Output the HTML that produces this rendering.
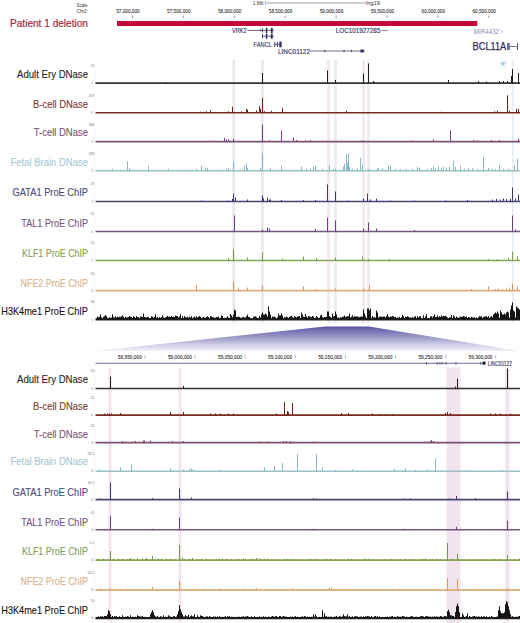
<!DOCTYPE html>
<html><head><meta charset="utf-8"><style>
html,body{margin:0;padding:0;background:#fff;width:520px;height:623px;overflow:hidden}
svg{display:block}
</style></head><body>
<svg width="520" height="623" viewBox="0 0 520 623" font-family='"Liberation Sans", sans-serif'><rect x="232.5" y="60" width="2.5" height="263" fill="#e8e8ec" />
<rect x="261.2" y="60" width="2.5" height="263" fill="#e8e8ec" />
<rect x="327.2" y="60" width="2.5" height="263" fill="#f1e6ee" />
<rect x="334.4" y="60" width="2.5" height="263" fill="#ebebef" />
<rect x="362.4" y="60" width="2.5" height="263" fill="#f1e6ee" />
<rect x="367.2" y="60" width="2.5" height="263" fill="#ebebef" />
<rect x="511.8" y="60" width="1.6" height="263" fill="#e0ecf6" />
<rect x="108.5" y="367.5" width="3" height="256" fill="#f2e4ef" />
<rect x="178.5" y="367.5" width="3" height="256" fill="#f2e4ef" />
<rect x="446.5" y="367.5" width="14" height="256" fill="#f2e4ef" />
<rect x="505.2" y="367.5" width="4.2" height="256" fill="#f2e4ef" />
<text x="76.5" y="7" font-size="4.6" fill="#333" text-anchor="start" textLength="11" lengthAdjust="spacingAndGlyphs" font-weight="normal" >Scale</text>
<text x="76.5" y="13" font-size="4.6" fill="#333" text-anchor="start" textLength="11.5" lengthAdjust="spacingAndGlyphs" font-weight="normal" >Chr2:</text>
<text x="10" y="27" font-size="10.8" fill="#a32a3a" text-anchor="start" textLength="78" lengthAdjust="spacingAndGlyphs" font-weight="normal" stroke="#a32a3a" stroke-width="0.2">Patient 1 deletion</text>
<rect x="117" y="21" width="360.3" height="5" fill="#c4063a" />
<text x="127.9" y="13.3" font-size="5.6" fill="#333" text-anchor="middle" textLength="23.5" lengthAdjust="spacingAndGlyphs" font-weight="normal" stroke="#333" stroke-width="0.1">57,000,000</text>
<line x1="132.5" y1="15.5" x2="132.5" y2="18" stroke="#555" stroke-width="0.6" />
<text x="178.8" y="13.3" font-size="5.6" fill="#333" text-anchor="middle" textLength="23.5" lengthAdjust="spacingAndGlyphs" font-weight="normal" stroke="#333" stroke-width="0.1">57,500,000</text>
<line x1="183.4" y1="15.5" x2="183.4" y2="18" stroke="#555" stroke-width="0.6" />
<text x="229.70000000000002" y="13.3" font-size="5.6" fill="#333" text-anchor="middle" textLength="23.5" lengthAdjust="spacingAndGlyphs" font-weight="normal" stroke="#333" stroke-width="0.1">58,000,000</text>
<line x1="234.3" y1="15.5" x2="234.3" y2="18" stroke="#555" stroke-width="0.6" />
<text x="280.59999999999997" y="13.3" font-size="5.6" fill="#333" text-anchor="middle" textLength="23.5" lengthAdjust="spacingAndGlyphs" font-weight="normal" stroke="#333" stroke-width="0.1">58,500,000</text>
<line x1="285.2" y1="15.5" x2="285.2" y2="18" stroke="#555" stroke-width="0.6" />
<text x="331.5" y="13.3" font-size="5.6" fill="#333" text-anchor="middle" textLength="23.5" lengthAdjust="spacingAndGlyphs" font-weight="normal" stroke="#333" stroke-width="0.1">59,000,000</text>
<line x1="336.1" y1="15.5" x2="336.1" y2="18" stroke="#555" stroke-width="0.6" />
<text x="382.4" y="13.3" font-size="5.6" fill="#333" text-anchor="middle" textLength="23.5" lengthAdjust="spacingAndGlyphs" font-weight="normal" stroke="#333" stroke-width="0.1">59,500,000</text>
<line x1="387.0" y1="15.5" x2="387.0" y2="18" stroke="#555" stroke-width="0.6" />
<text x="433.29999999999995" y="13.3" font-size="5.6" fill="#333" text-anchor="middle" textLength="23.5" lengthAdjust="spacingAndGlyphs" font-weight="normal" stroke="#333" stroke-width="0.1">60,000,000</text>
<line x1="437.9" y1="15.5" x2="437.9" y2="18" stroke="#555" stroke-width="0.6" />
<text x="484.2" y="13.3" font-size="5.6" fill="#333" text-anchor="middle" textLength="23.5" lengthAdjust="spacingAndGlyphs" font-weight="normal" stroke="#333" stroke-width="0.1">60,500,000</text>
<line x1="488.8" y1="15.5" x2="488.8" y2="18" stroke="#555" stroke-width="0.6" />
<text x="252.8" y="5" font-size="4.8" fill="#333" text-anchor="start" textLength="10.5" lengthAdjust="spacingAndGlyphs" font-weight="normal" >1 Mb</text>
<line x1="265.4" y1="3" x2="366" y2="3" stroke="#888" stroke-width="0.8" />
<line x1="265.4" y1="1" x2="265.4" y2="5" stroke="#888" stroke-width="0.6" />
<line x1="366" y1="1" x2="366" y2="5" stroke="#888" stroke-width="0.6" />
<text x="367" y="5" font-size="4.8" fill="#333" text-anchor="start" textLength="13" lengthAdjust="spacingAndGlyphs" font-weight="normal" >hg19</text>
<text x="231.9" y="33.0" font-size="6.8" fill="#2e2e5c" text-anchor="start" textLength="14.9" lengthAdjust="spacingAndGlyphs" font-weight="normal" stroke="#2e2e5c" stroke-width="0.12">VRK2</text>
<line x1="247.5" y1="30.4" x2="274" y2="30.4" stroke="#2e2e5c" stroke-width="0.7" />
<rect x="259.9" y="29.6" width="1.2" height="1.6" fill="#2e2e5c" />
<rect x="262" y="28.3" width="0.9" height="4.2" fill="#2e2e5c" />
<rect x="265.8" y="27.8" width="1.5" height="5.2" fill="#2e2e5c" />
<rect x="270.8" y="27.8" width="1.9" height="5.2" fill="#2e2e5c" />
<line x1="262.4" y1="36.2" x2="274" y2="36.2" stroke="#2e2e5c" stroke-width="0.7" />
<rect x="262" y="34" width="0.9" height="4.4" fill="#2e2e5c" />
<rect x="265.8" y="33.6" width="1.5" height="5.2" fill="#2e2e5c" />
<rect x="270.8" y="33.6" width="1.9" height="5.2" fill="#2e2e5c" />
<text x="253.5" y="47.3" font-size="6.8" fill="#2e2e5c" text-anchor="start" textLength="18.5" lengthAdjust="spacingAndGlyphs" font-weight="normal" stroke="#2e2e5c" stroke-width="0.12">FANCL</text>
<line x1="274.5" y1="44.4" x2="281" y2="44.4" stroke="#2e2e5c" stroke-width="0.7" />
<rect x="274.4" y="41.8" width="0.9" height="5.2" fill="#2e2e5c" />
<rect x="276.9" y="41.8" width="0.9" height="5.2" fill="#2e2e5c" />
<rect x="279.3" y="41.5" width="2.3" height="5.8" fill="#2e2e5c" />
<text x="278" y="53.8" font-size="6.8" fill="#2e2e5c" text-anchor="start" textLength="32" lengthAdjust="spacingAndGlyphs" font-weight="normal" stroke="#2e2e5c" stroke-width="0.12">LINC01122</text>
<line x1="310" y1="51" x2="365" y2="51" stroke="#2e2e5c" stroke-width="0.7" />
<rect x="324.40000000000003" y="49.8" width="0.8" height="2.4" fill="#2e2e5c" />
<rect x="343.6" y="49.8" width="0.8" height="2.4" fill="#2e2e5c" />
<rect x="351.3" y="49.8" width="0.8" height="2.4" fill="#2e2e5c" />
<rect x="360.5" y="49.5" width="3.2" height="3" fill="#2e2e5c" />
<text x="335.8" y="33.3" font-size="6.8" fill="#2e2e5c" text-anchor="start" textLength="44.6" lengthAdjust="spacingAndGlyphs" font-weight="normal" stroke="#2e2e5c" stroke-width="0.12">LOC101927285</text>
<line x1="381.5" y1="30.6" x2="388" y2="30.6" stroke="#2e2e5c" stroke-width="0.6" />
<text x="473.8" y="33.5" font-size="6.5" fill="#8c8cb8" text-anchor="start" textLength="25.4" lengthAdjust="spacingAndGlyphs" font-weight="normal" >MIR4432</text>
<text x="500.5" y="33.5" font-size="6.5" fill="#8c8cb8" text-anchor="start" font-weight="normal" >&#8250;</text>
<text x="472.6" y="49.6" font-size="10.5" fill="#2a2a58" text-anchor="start" textLength="33.6" lengthAdjust="spacingAndGlyphs" font-weight="normal" stroke="#2a2a58" stroke-width="0.25">BCL11A</text>
<line x1="507.5" y1="46.5" x2="518" y2="46.5" stroke="#5a5a90" stroke-width="0.8" />
<rect x="507" y="43" width="2.8" height="7" fill="#6a6aa0" />
<rect x="517" y="43" width="1" height="7" fill="#5a5a90" />
<line x1="499.6" y1="63.7" x2="506.6" y2="63.7" stroke="#9cc6e0" stroke-width="0.9" />
<line x1="501.35" y1="60.66891108675447" x2="504.85" y2="66.73108891324554" stroke="#9cc6e0" stroke-width="0.9" />
<line x1="504.85" y1="60.66891108675447" x2="501.35" y2="66.73108891324554" stroke="#9cc6e0" stroke-width="0.9" />
<text x="94.6" y="67.0" font-size="3.6" fill="#777" text-anchor="end" font-weight="normal" >21</text>
<text x="93.2" y="84.3" font-size="3.6" fill="#777" text-anchor="end" font-weight="normal" >1</text>
<text x="17" y="77.5" font-size="10.6" fill="#262626" text-anchor="start" textLength="71" lengthAdjust="spacingAndGlyphs" font-weight="normal" stroke="#262626" stroke-width="0.12">Adult Ery DNase</text>
<line x1="95.5" y1="83.1" x2="520" y2="83.1" stroke="#333333" stroke-width="1.6" />
<line x1="94.4" y1="64.6" x2="94.4" y2="83.1" stroke="#e6e6e6" stroke-width="0.5" />
<text x="94.6" y="96.69999999999999" font-size="3.6" fill="#777" text-anchor="end" font-weight="normal" >207</text>
<text x="93.2" y="114.0" font-size="3.6" fill="#777" text-anchor="end" font-weight="normal" >1</text>
<text x="33" y="107.8" font-size="10.6" fill="#7e3c30" text-anchor="start" textLength="55" lengthAdjust="spacingAndGlyphs" font-weight="normal" stroke="#7e3c30" stroke-width="0.12">B-cell DNase</text>
<line x1="95.5" y1="112.8" x2="520" y2="112.8" stroke="#7a2a20" stroke-width="1.6" />
<line x1="94.4" y1="94.3" x2="94.4" y2="112.8" stroke="#e6e6e6" stroke-width="0.5" />
<text x="94.6" y="125.5" font-size="3.6" fill="#777" text-anchor="end" font-weight="normal" >186</text>
<text x="93.2" y="142.79999999999998" font-size="3.6" fill="#777" text-anchor="end" font-weight="normal" >1</text>
<text x="33.75" y="135.7" font-size="10.6" fill="#7e5479" text-anchor="start" textLength="54.25" lengthAdjust="spacingAndGlyphs" font-weight="normal" stroke="#7e5479" stroke-width="0.12">T-cell DNase</text>
<line x1="95.5" y1="141.6" x2="520" y2="141.6" stroke="#7a507a" stroke-width="1.6" />
<line x1="94.4" y1="123.1" x2="94.4" y2="141.6" stroke="#e6e6e6" stroke-width="0.5" />
<text x="94.6" y="154.6" font-size="3.6" fill="#777" text-anchor="end" font-weight="normal" >283</text>
<text x="93.2" y="171.89999999999998" font-size="3.6" fill="#777" text-anchor="end" font-weight="normal" >1</text>
<text x="10.5" y="165.75" font-size="10.6" fill="#a6cad4" text-anchor="start" textLength="77.5" lengthAdjust="spacingAndGlyphs" font-weight="normal" stroke="#a6cad4" stroke-width="0.12">Fetal Brain DNase</text>
<line x1="95.5" y1="170.7" x2="520" y2="170.7" stroke="#9cc0c6" stroke-width="1.35" />
<line x1="94.4" y1="152.2" x2="94.4" y2="170.7" stroke="#e6e6e6" stroke-width="0.5" />
<text x="94.6" y="185.4" font-size="3.6" fill="#777" text-anchor="end" font-weight="normal" >37</text>
<text x="93.2" y="202.7" font-size="3.6" fill="#777" text-anchor="end" font-weight="normal" >1</text>
<text x="12.5" y="196.4" font-size="10.6" fill="#4a4a78" text-anchor="start" textLength="75.5" lengthAdjust="spacingAndGlyphs" font-weight="normal" stroke="#4a4a78" stroke-width="0.12">GATA1 ProE ChIP</text>
<line x1="95.5" y1="201.5" x2="520" y2="201.5" stroke="#46466e" stroke-width="1.6" />
<line x1="94.4" y1="183.0" x2="94.4" y2="201.5" stroke="#e6e6e6" stroke-width="0.5" />
<text x="94.6" y="215.4" font-size="3.6" fill="#777" text-anchor="end" font-weight="normal" >41</text>
<text x="93.2" y="232.7" font-size="3.6" fill="#777" text-anchor="end" font-weight="normal" >1</text>
<text x="21.25" y="227.0" font-size="10.6" fill="#735680" text-anchor="start" textLength="66.75" lengthAdjust="spacingAndGlyphs" font-weight="normal" stroke="#735680" stroke-width="0.12">TAL1 ProE ChIP</text>
<line x1="95.5" y1="231.5" x2="520" y2="231.5" stroke="#72587e" stroke-width="1.6" />
<line x1="94.4" y1="213.0" x2="94.4" y2="231.5" stroke="#e6e6e6" stroke-width="0.5" />
<text x="94.6" y="244.4" font-size="3.6" fill="#777" text-anchor="end" font-weight="normal" >52</text>
<text x="93.2" y="261.7" font-size="3.6" fill="#777" text-anchor="end" font-weight="normal" >1</text>
<text x="22" y="257.1" font-size="10.6" fill="#84a05a" text-anchor="start" textLength="66" lengthAdjust="spacingAndGlyphs" font-weight="normal" stroke="#84a05a" stroke-width="0.12">KLF1 ProE ChIP</text>
<line x1="95.5" y1="260.5" x2="520" y2="260.5" stroke="#86a656" stroke-width="1.6" />
<line x1="94.4" y1="242.0" x2="94.4" y2="260.5" stroke="#e6e6e6" stroke-width="0.5" />
<text x="94.6" y="274.5" font-size="3.6" fill="#777" text-anchor="end" font-weight="normal" >52</text>
<text x="93.2" y="291.8" font-size="3.6" fill="#777" text-anchor="end" font-weight="normal" >1</text>
<text x="20.5" y="287.0" font-size="10.6" fill="#d8b28c" text-anchor="start" textLength="67.5" lengthAdjust="spacingAndGlyphs" font-weight="normal" stroke="#d8b28c" stroke-width="0.12">NFE2 ProE ChIP</text>
<line x1="95.5" y1="290.6" x2="520" y2="290.6" stroke="#deae7c" stroke-width="1.6" />
<line x1="94.4" y1="272.1" x2="94.4" y2="290.6" stroke="#e6e6e6" stroke-width="0.5" />
<text x="94.6" y="303.4" font-size="3.6" fill="#777" text-anchor="end" font-weight="normal" >36</text>
<text x="93.2" y="320.7" font-size="3.6" fill="#777" text-anchor="end" font-weight="normal" >1</text>
<text x="1.25" y="314.7" font-size="10.6" fill="#141414" text-anchor="start" textLength="86.75" lengthAdjust="spacingAndGlyphs" font-weight="normal" stroke="#141414" stroke-width="0.12">H3K4me1 ProE ChIP</text>
<line x1="95.5" y1="319.5" x2="520" y2="319.5" stroke="#222222" stroke-width="2.2" />
<line x1="94.4" y1="301.0" x2="94.4" y2="319.5" stroke="#e6e6e6" stroke-width="0.5" />
<text x="94.6" y="372.4" font-size="3.6" fill="#777" text-anchor="end" font-weight="normal" >20</text>
<text x="93.2" y="389.7" font-size="3.6" fill="#777" text-anchor="end" font-weight="normal" >0</text>
<text x="17" y="382.8" font-size="10.6" fill="#262626" text-anchor="start" textLength="71" lengthAdjust="spacingAndGlyphs" font-weight="normal" stroke="#262626" stroke-width="0.12">Adult Ery DNase</text>
<line x1="95.5" y1="388.5" x2="520" y2="388.5" stroke="#333333" stroke-width="1.6" />
<line x1="94.4" y1="370.0" x2="94.4" y2="388.5" stroke="#e6e6e6" stroke-width="0.5" />
<text x="94.6" y="399.0" font-size="3.6" fill="#777" text-anchor="end" font-weight="normal" >22</text>
<text x="93.2" y="416.3" font-size="3.6" fill="#777" text-anchor="end" font-weight="normal" >0</text>
<text x="33" y="410.4" font-size="10.6" fill="#7e3c30" text-anchor="start" textLength="55" lengthAdjust="spacingAndGlyphs" font-weight="normal" stroke="#7e3c30" stroke-width="0.12">B-cell DNase</text>
<line x1="95.5" y1="415.1" x2="520" y2="415.1" stroke="#7a2a20" stroke-width="1.6" />
<line x1="94.4" y1="396.6" x2="94.4" y2="415.1" stroke="#e6e6e6" stroke-width="0.5" />
<text x="94.6" y="426.5" font-size="3.6" fill="#777" text-anchor="end" font-weight="normal" >22</text>
<text x="93.2" y="443.8" font-size="3.6" fill="#777" text-anchor="end" font-weight="normal" >0</text>
<text x="33.75" y="438.3" font-size="10.6" fill="#7e5479" text-anchor="start" textLength="54.25" lengthAdjust="spacingAndGlyphs" font-weight="normal" stroke="#7e5479" stroke-width="0.12">T-cell DNase</text>
<line x1="95.5" y1="442.6" x2="520" y2="442.6" stroke="#7a507a" stroke-width="1.6" />
<line x1="94.4" y1="424.1" x2="94.4" y2="442.6" stroke="#e6e6e6" stroke-width="0.5" />
<text x="94.6" y="455.09999999999997" font-size="3.6" fill="#777" text-anchor="end" font-weight="normal" >26.5</text>
<text x="93.2" y="472.4" font-size="3.6" fill="#777" text-anchor="end" font-weight="normal" >0</text>
<text x="10.5" y="465.4" font-size="10.6" fill="#a6cad4" text-anchor="start" textLength="77.5" lengthAdjust="spacingAndGlyphs" font-weight="normal" stroke="#a6cad4" stroke-width="0.12">Fetal Brain DNase</text>
<line x1="95.5" y1="471.2" x2="520" y2="471.2" stroke="#9cc0c6" stroke-width="1.35" />
<line x1="94.4" y1="452.7" x2="94.4" y2="471.2" stroke="#e6e6e6" stroke-width="0.5" />
<text x="94.6" y="483.5" font-size="3.6" fill="#777" text-anchor="end" font-weight="normal" >36.5</text>
<text x="93.2" y="500.8" font-size="3.6" fill="#777" text-anchor="end" font-weight="normal" >0</text>
<text x="12.5" y="495.6" font-size="10.6" fill="#4a4a78" text-anchor="start" textLength="75.5" lengthAdjust="spacingAndGlyphs" font-weight="normal" stroke="#4a4a78" stroke-width="0.12">GATA1 ProE ChIP</text>
<line x1="95.5" y1="499.6" x2="520" y2="499.6" stroke="#46466e" stroke-width="1.6" />
<line x1="94.4" y1="481.1" x2="94.4" y2="499.6" stroke="#e6e6e6" stroke-width="0.5" />
<text x="94.6" y="513.6999999999999" font-size="3.6" fill="#777" text-anchor="end" font-weight="normal" >41</text>
<text x="93.2" y="531.0" font-size="3.6" fill="#777" text-anchor="end" font-weight="normal" >0</text>
<text x="21.25" y="526.0" font-size="10.6" fill="#735680" text-anchor="start" textLength="66.75" lengthAdjust="spacingAndGlyphs" font-weight="normal" stroke="#735680" stroke-width="0.12">TAL1 ProE ChIP</text>
<line x1="95.5" y1="529.8" x2="520" y2="529.8" stroke="#72587e" stroke-width="1.6" />
<line x1="94.4" y1="511.29999999999995" x2="94.4" y2="529.8" stroke="#e6e6e6" stroke-width="0.5" />
<text x="94.6" y="544.0" font-size="3.6" fill="#777" text-anchor="end" font-weight="normal" >5.2</text>
<text x="93.2" y="561.3000000000001" font-size="3.6" fill="#777" text-anchor="end" font-weight="normal" >0</text>
<text x="22" y="554.6" font-size="10.6" fill="#84a05a" text-anchor="start" textLength="66" lengthAdjust="spacingAndGlyphs" font-weight="normal" stroke="#84a05a" stroke-width="0.12">KLF1 ProE ChIP</text>
<line x1="95.5" y1="560.1" x2="520" y2="560.1" stroke="#86a656" stroke-width="1.6" />
<line x1="94.4" y1="541.6" x2="94.4" y2="560.1" stroke="#e6e6e6" stroke-width="0.5" />
<text x="94.6" y="574.0" font-size="3.6" fill="#777" text-anchor="end" font-weight="normal" >54.1</text>
<text x="93.2" y="591.3000000000001" font-size="3.6" fill="#777" text-anchor="end" font-weight="normal" >0</text>
<text x="20.5" y="585.0" font-size="10.6" fill="#d8b28c" text-anchor="start" textLength="67.5" lengthAdjust="spacingAndGlyphs" font-weight="normal" stroke="#d8b28c" stroke-width="0.12">NFE2 ProE ChIP</text>
<line x1="95.5" y1="590.1" x2="520" y2="590.1" stroke="#deae7c" stroke-width="1.6" />
<line x1="94.4" y1="571.6" x2="94.4" y2="590.1" stroke="#e6e6e6" stroke-width="0.5" />
<text x="94.6" y="602.1" font-size="3.6" fill="#777" text-anchor="end" font-weight="normal" >20</text>
<text x="93.2" y="619.4000000000001" font-size="3.6" fill="#777" text-anchor="end" font-weight="normal" >0</text>
<text x="1.25" y="614.2" font-size="10.6" fill="#141414" text-anchor="start" textLength="86.75" lengthAdjust="spacingAndGlyphs" font-weight="normal" stroke="#141414" stroke-width="0.12">H3K4me1 ProE ChIP</text>
<line x1="95.5" y1="618.2" x2="520" y2="618.2" stroke="#222222" stroke-width="2.2" />
<line x1="94.4" y1="599.7" x2="94.4" y2="618.2" stroke="#e6e6e6" stroke-width="0.5" />
<path d="M165 83.10h1v-1.00h-1zM262 83.10h1v-10.00h-1zM327 83.10h1v-12.70h-1zM335 83.10h1v-3.00h-1zM363 83.10h1v-9.60h-1zM368 83.10h1v-19.50h-1zM373 83.10h1v-2.00h-1zM448 83.10h1v-3.00h-1zM478 83.10h1v-2.00h-1zM486 83.10h1v-1.50h-1zM499 83.10h1v-2.00h-1zM503 83.10h1v-2.00h-1zM507 83.10h1v-2.00h-1zM511 83.10h1v-7.00h-1zM512 83.10h1v-14.00h-1zM518 83.10h1v-10.00h-1z" fill="#1e1e1e"/>
<path d="M200 112.80h1v-1.00h-1zM206 112.80h1v-1.50h-1zM210 112.80h1v-2.50h-1zM228 112.80h1v-1.50h-1zM232 112.80h1v-6.00h-1zM241 112.80h1v-1.50h-1zM246 112.80h1v-4.00h-1zM247 112.80h1v-3.00h-1zM256 112.80h1v-2.50h-1zM259 112.80h1v-6.50h-1zM260 112.80h1v-4.00h-1zM262 112.80h1v-15.00h-1zM264 112.80h1v-1.50h-1zM271 112.80h1v-2.00h-1zM282 112.80h1v-5.00h-1zM346 112.80h1v-2.00h-1zM441 112.80h1v-1.00h-1zM494 112.80h1v-1.50h-1zM497 112.80h1v-2.00h-1zM507 112.80h1v-17.60h-1zM509 112.80h1v-2.00h-1zM516 112.80h1v-4.00h-1zM518 112.80h1v-4.00h-1z" fill="#6e2418"/>
<path d="M211 141.60h1v-0.80h-1zM224 141.60h1v-3.50h-1zM226 141.60h1v-2.00h-1zM228 141.60h1v-2.00h-1zM233 141.60h1v-3.00h-1zM262 141.60h1v-17.00h-1zM269 141.60h1v-1.00h-1zM281 141.60h1v-11.00h-1zM293 141.60h1v-4.00h-1zM296 141.60h1v-1.50h-1zM305 141.60h1v-1.00h-1zM310 141.60h1v-1.50h-1zM361 141.60h1v-1.00h-1zM412 141.60h1v-1.00h-1zM433 141.60h1v-2.00h-1zM450 141.60h1v-11.00h-1zM473 141.60h1v-1.50h-1zM477 141.60h1v-1.00h-1zM491 141.60h1v-1.50h-1zM499 141.60h1v-1.50h-1zM518 141.60h1v-3.00h-1z" fill="#74407a"/>
<path d="M97 170.70h1v-1.00h-1zM112 170.70h1v-2.00h-1zM127 170.70h1v-9.50h-1zM129 170.70h1v-3.00h-1zM148 170.70h1v-5.00h-1zM168 170.70h1v-2.00h-1zM196 170.70h1v-2.00h-1zM201 170.70h1v-5.00h-1zM205 170.70h1v-3.00h-1zM207 170.70h1v-3.00h-1zM226 170.70h1v-2.00h-1zM228 170.70h1v-3.00h-1zM233 170.70h1v-9.00h-1zM244 170.70h1v-5.00h-1zM246 170.70h1v-7.00h-1zM247 170.70h1v-3.00h-1zM260 170.70h1v-3.00h-1zM262 170.70h1v-18.00h-1zM270 170.70h1v-3.00h-1zM281 170.70h1v-5.00h-1zM301 170.70h1v-4.00h-1zM306 170.70h1v-2.00h-1zM310 170.70h1v-3.00h-1zM313 170.70h1v-4.00h-1zM315 170.70h1v-5.00h-1zM322 170.70h1v-2.00h-1zM329 170.70h1v-5.00h-1zM333 170.70h1v-2.00h-1zM335 170.70h1v-2.00h-1zM343 170.70h1v-4.00h-1zM344 170.70h1v-7.00h-1zM346 170.70h1v-17.00h-1zM347 170.70h1v-8.00h-1zM348 170.70h1v-17.00h-1zM349 170.70h1v-4.00h-1zM352 170.70h1v-2.00h-1zM357 170.70h1v-3.00h-1zM360 170.70h1v-13.00h-1zM362 170.70h1v-6.00h-1zM369 170.70h1v-2.00h-1zM377 170.70h1v-2.00h-1zM378 170.70h1v-3.00h-1zM382 170.70h1v-3.00h-1zM388 170.70h1v-5.00h-1zM390 170.70h1v-5.00h-1zM395 170.70h1v-2.00h-1zM400 170.70h1v-1.50h-1zM406 170.70h1v-2.00h-1zM412 170.70h1v-2.00h-1zM417 170.70h1v-4.00h-1zM419 170.70h1v-3.00h-1zM427 170.70h1v-2.00h-1zM431 170.70h1v-3.00h-1zM433 170.70h1v-4.00h-1zM435 170.70h1v-3.00h-1zM438 170.70h1v-4.00h-1zM441 170.70h1v-3.00h-1zM443 170.70h1v-4.00h-1zM446 170.70h1v-3.00h-1zM449 170.70h1v-4.00h-1zM453 170.70h1v-10.00h-1zM455 170.70h1v-4.00h-1zM460 170.70h1v-5.00h-1zM464 170.70h1v-2.00h-1zM468 170.70h1v-3.00h-1zM472 170.70h1v-3.00h-1zM477 170.70h1v-2.00h-1zM483 170.70h1v-14.00h-1zM488 170.70h1v-3.00h-1zM492 170.70h1v-2.00h-1zM495 170.70h1v-2.00h-1zM499 170.70h1v-6.00h-1zM503 170.70h1v-2.00h-1zM508 170.70h1v-2.00h-1zM514 170.70h1v-6.00h-1zM517 170.70h1v-12.00h-1z" fill="#86b8c8"/>
<path d="M201 201.50h1v-1.00h-1zM228 201.50h1v-1.00h-1zM232 201.50h1v-2.50h-1zM233 201.50h1v-8.00h-1zM235 201.50h1v-4.00h-1zM247 201.50h1v-2.00h-1zM262 201.50h1v-6.00h-1zM263 201.50h1v-3.00h-1zM267 201.50h1v-4.00h-1zM269 201.50h1v-2.00h-1zM270 201.50h1v-2.00h-1zM281 201.50h1v-1.50h-1zM303 201.50h1v-1.50h-1zM315 201.50h1v-1.50h-1zM327 201.50h1v-17.00h-1zM335 201.50h1v-10.00h-1zM348 201.50h1v-1.00h-1zM363 201.50h1v-3.00h-1zM367 201.50h1v-8.00h-1zM370 201.50h1v-2.00h-1zM376 201.50h1v-3.00h-1zM390 201.50h1v-1.00h-1zM414 201.50h1v-1.00h-1zM445 201.50h1v-1.00h-1zM467 201.50h1v-1.50h-1zM492 201.50h1v-2.00h-1zM496 201.50h1v-2.50h-1zM500 201.50h1v-2.00h-1zM503 201.50h1v-3.00h-1zM506 201.50h1v-2.50h-1zM510 201.50h1v-3.00h-1zM512 201.50h1v-14.00h-1zM515 201.50h1v-3.00h-1zM518 201.50h1v-7.00h-1z" fill="#38386a"/>
<path d="M234 231.50h1v-16.00h-1zM262 231.50h1v-2.00h-1zM267 231.50h1v-4.00h-1zM269 231.50h1v-3.00h-1zM315 231.50h1v-2.50h-1zM327 231.50h1v-14.00h-1zM335 231.50h1v-11.00h-1zM363 231.50h1v-3.00h-1zM368 231.50h1v-9.00h-1zM376 231.50h1v-3.00h-1zM414 231.50h1v-1.50h-1zM512 231.50h1v-16.00h-1zM515 231.50h1v-2.00h-1z" fill="#6a4078"/>
<path d="M228 260.50h1v-2.50h-1zM233 260.50h1v-11.00h-1zM247 260.50h1v-3.00h-1zM262 260.50h1v-8.00h-1zM282 260.50h1v-2.00h-1zM303 260.50h1v-4.00h-1zM316 260.50h1v-2.50h-1zM335 260.50h1v-3.00h-1zM362 260.50h1v-3.50h-1zM368 260.50h1v-1.50h-1zM389 260.50h1v-1.50h-1zM488 260.50h1v-1.50h-1zM497 260.50h1v-1.50h-1zM508 260.50h1v-3.00h-1zM512 260.50h1v-9.00h-1zM517 260.50h1v-4.00h-1z" fill="#789a48"/>
<path d="M196 290.60h1v-5.00h-1zM233 290.60h1v-9.00h-1zM238 290.60h1v-3.00h-1zM247 290.60h1v-3.00h-1zM262 290.60h1v-5.00h-1zM303 290.60h1v-4.00h-1zM316 290.60h1v-1.50h-1zM335 290.60h1v-2.00h-1zM363 290.60h1v-2.00h-1zM369 290.60h1v-5.00h-1zM471 290.60h1v-1.50h-1zM488 290.60h1v-4.00h-1zM495 290.60h1v-1.50h-1zM498 290.60h1v-2.00h-1zM502 290.60h1v-1.50h-1zM506 290.60h1v-2.00h-1zM509 290.60h1v-3.00h-1zM512 290.60h1v-7.00h-1zM517 290.60h1v-4.00h-1z" fill="#d49a60"/>
<path d="M143 319.50h1v-6.00h-1zM177 319.50h1v-3.50h-1zM231 319.50h1v-4.00h-1zM233 319.50h1v-5.00h-1zM234 319.50h1v-10.00h-1zM235 319.50h1v-9.00h-1zM238 319.50h1v-3.00h-1zM247 319.50h1v-5.00h-1zM261 319.50h1v-5.00h-1zM262 319.50h1v-7.00h-1zM263 319.50h1v-5.00h-1zM264 319.50h1v-5.00h-1zM265 319.50h1v-6.00h-1zM266 319.50h1v-5.00h-1zM268 319.50h1v-13.00h-1zM269 319.50h1v-8.00h-1zM269 319.50h1v-7.00h-1zM270 319.50h1v-5.00h-1zM274 319.50h1v-3.00h-1zM278 319.50h1v-6.00h-1zM279 319.50h1v-4.00h-1zM280 319.50h1v-4.00h-1zM281 319.50h1v-6.00h-1zM282 319.50h1v-4.00h-1zM294 319.50h1v-2.50h-1zM301 319.50h1v-7.00h-1zM320 319.50h1v-4.00h-1zM327 319.50h1v-8.00h-1zM328 319.50h1v-8.00h-1zM332 319.50h1v-6.00h-1zM335 319.50h1v-8.00h-1zM336 319.50h1v-5.00h-1zM349 319.50h1v-6.00h-1zM363 319.50h1v-10.00h-1zM364 319.50h1v-6.00h-1zM367 319.50h1v-11.00h-1zM368 319.50h1v-11.00h-1zM369 319.50h1v-9.00h-1zM370 319.50h1v-11.00h-1zM372 319.50h1v-3.00h-1zM376 319.50h1v-9.00h-1zM377 319.50h1v-7.00h-1zM383 319.50h1v-3.00h-1zM414 319.50h1v-3.00h-1zM434 319.50h1v-2.50h-1zM441 319.50h1v-4.00h-1zM493 319.50h1v-5.00h-1zM494 319.50h1v-6.00h-1zM495 319.50h1v-7.00h-1zM496 319.50h1v-6.00h-1zM497 319.50h1v-8.00h-1zM498 319.50h1v-6.00h-1zM500 319.50h1v-9.00h-1zM501 319.50h1v-7.00h-1zM502 319.50h1v-5.00h-1zM503 319.50h1v-5.00h-1zM504 319.50h1v-6.00h-1zM505 319.50h1v-5.00h-1zM506 319.50h1v-7.00h-1zM507 319.50h1v-8.00h-1zM508 319.50h1v-7.00h-1zM510 319.50h1v-10.00h-1zM511 319.50h1v-14.00h-1zM512 319.50h1v-17.00h-1zM513 319.50h1v-9.00h-1zM514 319.50h1v-8.00h-1zM516 319.50h1v-13.00h-1zM517 319.50h1v-12.00h-1zM518 319.50h1v-11.00h-1zM519 319.50h1v-10.00h-1zM96.00 319.50h1v-1.51h-1zM97.00 319.50h1v-2.96h-1zM98.00 319.50h1v-2.34h-1zM99.00 319.50h1v-2.70h-1zM100.00 319.50h1v-5.17h-1zM101.00 319.50h1v-2.20h-1zM102.00 319.50h1v-1.20h-1zM103.00 319.50h1v-2.86h-1zM104.00 319.50h1v-3.37h-1zM105.00 319.50h1v-4.58h-1zM106.00 319.50h1v-3.36h-1zM107.00 319.50h1v-1.70h-1zM108.00 319.50h1v-1.27h-1zM109.00 319.50h1v-2.21h-1zM110.00 319.50h1v-1.74h-1zM111.00 319.50h1v-1.70h-1zM112.00 319.50h1v-5.18h-1zM113.00 319.50h1v-2.48h-1zM114.00 319.50h1v-1.63h-1zM115.00 319.50h1v-3.18h-1zM116.00 319.50h1v-1.97h-1zM117.00 319.50h1v-2.84h-1zM118.00 319.50h1v-2.17h-1zM119.00 319.50h1v-2.74h-1zM120.00 319.50h1v-2.55h-1zM121.00 319.50h1v-3.15h-1zM122.00 319.50h1v-3.99h-1zM123.00 319.50h1v-3.03h-1zM124.00 319.50h1v-1.60h-1zM125.00 319.50h1v-2.82h-1zM126.00 319.50h1v-2.06h-1zM127.00 319.50h1v-2.37h-1zM128.00 319.50h1v-2.40h-1zM129.00 319.50h1v-3.59h-1zM130.00 319.50h1v-2.82h-1zM131.00 319.50h1v-2.56h-1zM132.00 319.50h1v-1.59h-1zM133.00 319.50h1v-3.46h-1zM134.00 319.50h1v-2.44h-1zM135.00 319.50h1v-1.73h-1zM136.00 319.50h1v-3.39h-1zM137.00 319.50h1v-2.26h-1zM138.00 319.50h1v-2.46h-1zM139.00 319.50h1v-1.21h-1zM140.00 319.50h1v-3.09h-1zM141.00 319.50h1v-2.90h-1zM142.00 319.50h1v-2.39h-1zM143.00 319.50h1v-5.24h-1zM144.00 319.50h1v-2.51h-1zM145.00 319.50h1v-2.36h-1zM146.00 319.50h1v-2.02h-1zM147.00 319.50h1v-2.44h-1zM148.00 319.50h1v-2.61h-1zM149.00 319.50h1v-1.26h-1zM150.00 319.50h1v-1.61h-1zM151.00 319.50h1v-3.18h-1zM152.00 319.50h1v-3.03h-1zM153.00 319.50h1v-1.79h-1zM154.00 319.50h1v-2.75h-1zM155.00 319.50h1v-5.01h-1zM156.00 319.50h1v-1.77h-1zM157.00 319.50h1v-2.64h-1zM158.00 319.50h1v-1.36h-1zM159.00 319.50h1v-2.41h-1zM160.00 319.50h1v-1.83h-1zM161.00 319.50h1v-2.25h-1zM162.00 319.50h1v-4.27h-1zM163.00 319.50h1v-2.17h-1zM164.00 319.50h1v-1.45h-1zM165.00 319.50h1v-2.37h-1zM166.00 319.50h1v-2.59h-1zM167.00 319.50h1v-3.79h-1zM168.00 319.50h1v-2.85h-1zM169.00 319.50h1v-2.82h-1zM170.00 319.50h1v-2.45h-1zM171.00 319.50h1v-3.44h-1zM172.00 319.50h1v-2.39h-1zM173.00 319.50h1v-2.69h-1zM174.00 319.50h1v-2.52h-1zM175.00 319.50h1v-4.10h-1zM176.00 319.50h1v-3.43h-1zM177.00 319.50h1v-1.90h-1zM178.00 319.50h1v-1.91h-1zM179.00 319.50h1v-2.91h-1zM180.00 319.50h1v-5.26h-1zM181.00 319.50h1v-1.29h-1zM182.00 319.50h1v-3.41h-1zM183.00 319.50h1v-1.59h-1zM184.00 319.50h1v-3.44h-1zM185.00 319.50h1v-2.37h-1zM186.00 319.50h1v-2.00h-1zM187.00 319.50h1v-2.75h-1zM188.00 319.50h1v-1.65h-1zM189.00 319.50h1v-2.73h-1zM190.00 319.50h1v-2.35h-1zM191.00 319.50h1v-3.20h-1zM192.00 319.50h1v-1.24h-1zM193.00 319.50h1v-1.95h-1zM194.00 319.50h1v-3.00h-1zM195.00 319.50h1v-1.69h-1zM196.00 319.50h1v-3.13h-1zM197.00 319.50h1v-1.99h-1zM198.00 319.50h1v-2.78h-1zM199.00 319.50h1v-3.47h-1zM200.00 319.50h1v-2.87h-1zM201.00 319.50h1v-1.59h-1zM202.00 319.50h1v-1.69h-1zM203.00 319.50h1v-2.58h-1zM204.00 319.50h1v-2.05h-1zM205.00 319.50h1v-1.87h-1zM206.00 319.50h1v-2.59h-1zM207.00 319.50h1v-3.24h-1zM208.00 319.50h1v-2.47h-1zM209.00 319.50h1v-1.29h-1zM210.00 319.50h1v-3.19h-1zM211.00 319.50h1v-3.11h-1zM212.00 319.50h1v-2.61h-1zM213.00 319.50h1v-2.07h-1zM214.00 319.50h1v-1.71h-1zM215.00 319.50h1v-1.81h-1zM216.00 319.50h1v-2.50h-1zM217.00 319.50h1v-2.25h-1zM218.00 319.50h1v-3.01h-1zM219.00 319.50h1v-1.23h-1zM220.00 319.50h1v-1.41h-1zM221.00 319.50h1v-3.98h-1zM222.00 319.50h1v-3.47h-1zM223.00 319.50h1v-1.47h-1zM224.00 319.50h1v-1.76h-1zM225.00 319.50h1v-1.44h-1zM226.00 319.50h1v-2.07h-1zM227.00 319.50h1v-3.29h-1zM228.00 319.50h1v-1.78h-1zM229.00 319.50h1v-1.43h-1zM230.00 319.50h1v-5.47h-1zM231.00 319.50h1v-1.88h-1zM232.00 319.50h1v-2.23h-1zM233.00 319.50h1v-1.34h-1zM234.00 319.50h1v-3.43h-1zM235.00 319.50h1v-1.46h-1zM236.00 319.50h1v-2.62h-1zM237.00 319.50h1v-2.45h-1zM238.00 319.50h1v-2.72h-1zM239.00 319.50h1v-2.45h-1zM240.00 319.50h1v-1.77h-1zM241.00 319.50h1v-1.85h-1zM242.00 319.50h1v-2.23h-1zM243.00 319.50h1v-2.68h-1zM244.00 319.50h1v-2.10h-1zM245.00 319.50h1v-1.95h-1zM246.00 319.50h1v-3.15h-1zM247.00 319.50h1v-1.90h-1zM248.00 319.50h1v-2.45h-1zM249.00 319.50h1v-2.57h-1zM250.00 319.50h1v-1.25h-1zM251.00 319.50h1v-1.37h-1zM252.00 319.50h1v-1.36h-1zM253.00 319.50h1v-2.66h-1zM254.00 319.50h1v-3.02h-1zM255.00 319.50h1v-3.18h-1zM256.00 319.50h1v-2.35h-1zM257.00 319.50h1v-1.38h-1zM258.00 319.50h1v-1.60h-1zM259.00 319.50h1v-3.47h-1zM260.00 319.50h1v-1.94h-1zM261.00 319.50h1v-2.38h-1zM262.00 319.50h1v-1.88h-1zM263.00 319.50h1v-1.53h-1zM264.00 319.50h1v-1.27h-1zM265.00 319.50h1v-3.28h-1zM266.00 319.50h1v-3.29h-1zM267.00 319.50h1v-2.92h-1zM268.00 319.50h1v-1.61h-1zM269.00 319.50h1v-1.56h-1zM270.00 319.50h1v-2.74h-1zM271.00 319.50h1v-1.35h-1zM272.00 319.50h1v-3.06h-1zM273.00 319.50h1v-2.45h-1zM274.00 319.50h1v-2.24h-1zM275.00 319.50h1v-1.98h-1zM276.00 319.50h1v-1.26h-1zM277.00 319.50h1v-2.16h-1zM278.00 319.50h1v-1.34h-1zM279.00 319.50h1v-1.52h-1zM280.00 319.50h1v-1.80h-1zM281.00 319.50h1v-2.11h-1zM282.00 319.50h1v-2.61h-1zM283.00 319.50h1v-1.22h-1zM284.00 319.50h1v-2.35h-1zM285.00 319.50h1v-2.21h-1zM286.00 319.50h1v-2.88h-1zM287.00 319.50h1v-2.34h-1zM288.00 319.50h1v-1.72h-1zM289.00 319.50h1v-2.49h-1zM290.00 319.50h1v-3.31h-1zM291.00 319.50h1v-3.64h-1zM292.00 319.50h1v-2.38h-1zM293.00 319.50h1v-1.57h-1zM294.00 319.50h1v-3.23h-1zM295.00 319.50h1v-2.79h-1zM296.00 319.50h1v-2.05h-1zM297.00 319.50h1v-2.89h-1zM298.00 319.50h1v-3.17h-1zM299.00 319.50h1v-3.41h-1zM300.00 319.50h1v-1.61h-1zM301.00 319.50h1v-1.70h-1zM302.00 319.50h1v-4.86h-1zM303.00 319.50h1v-2.85h-1zM304.00 319.50h1v-2.38h-1zM305.00 319.50h1v-5.46h-1zM306.00 319.50h1v-3.06h-1zM307.00 319.50h1v-1.82h-1zM308.00 319.50h1v-3.41h-1zM309.00 319.50h1v-2.98h-1zM310.00 319.50h1v-2.72h-1zM311.00 319.50h1v-2.22h-1zM312.00 319.50h1v-3.43h-1zM313.00 319.50h1v-3.05h-1zM314.00 319.50h1v-1.58h-1zM315.00 319.50h1v-1.49h-1zM316.00 319.50h1v-3.41h-1zM317.00 319.50h1v-2.58h-1zM318.00 319.50h1v-1.47h-1zM319.00 319.50h1v-1.77h-1zM320.00 319.50h1v-1.21h-1zM321.00 319.50h1v-4.76h-1zM322.00 319.50h1v-2.59h-1zM323.00 319.50h1v-1.68h-1zM324.00 319.50h1v-2.45h-1zM325.00 319.50h1v-2.55h-1zM326.00 319.50h1v-2.77h-1zM327.00 319.50h1v-3.06h-1zM328.00 319.50h1v-2.45h-1zM329.00 319.50h1v-3.17h-1zM330.00 319.50h1v-2.51h-1zM331.00 319.50h1v-1.85h-1zM332.00 319.50h1v-3.06h-1zM333.00 319.50h1v-2.92h-1zM334.00 319.50h1v-3.42h-1zM335.00 319.50h1v-3.44h-1zM336.00 319.50h1v-2.35h-1zM337.00 319.50h1v-1.92h-1zM338.00 319.50h1v-2.02h-1zM339.00 319.50h1v-1.20h-1zM340.00 319.50h1v-2.23h-1zM341.00 319.50h1v-2.12h-1zM342.00 319.50h1v-2.77h-1zM343.00 319.50h1v-2.69h-1zM344.00 319.50h1v-4.06h-1zM345.00 319.50h1v-2.58h-1zM346.00 319.50h1v-3.11h-1zM347.00 319.50h1v-3.47h-1zM348.00 319.50h1v-3.12h-1zM349.00 319.50h1v-2.91h-1zM350.00 319.50h1v-1.90h-1zM351.00 319.50h1v-2.63h-1zM352.00 319.50h1v-4.28h-1zM353.00 319.50h1v-2.18h-1zM354.00 319.50h1v-3.18h-1zM355.00 319.50h1v-2.89h-1zM356.00 319.50h1v-2.92h-1zM357.00 319.50h1v-2.92h-1zM358.00 319.50h1v-2.69h-1zM359.00 319.50h1v-2.14h-1zM360.00 319.50h1v-2.66h-1zM361.00 319.50h1v-3.00h-1zM362.00 319.50h1v-2.97h-1zM363.00 319.50h1v-2.59h-1zM364.00 319.50h1v-1.81h-1zM365.00 319.50h1v-3.21h-1zM366.00 319.50h1v-1.55h-1zM367.00 319.50h1v-2.31h-1zM368.00 319.50h1v-1.30h-1zM369.00 319.50h1v-2.91h-1zM370.00 319.50h1v-2.02h-1zM371.00 319.50h1v-1.25h-1zM372.00 319.50h1v-3.38h-1zM373.00 319.50h1v-2.12h-1zM374.00 319.50h1v-2.59h-1zM375.00 319.50h1v-1.68h-1zM376.00 319.50h1v-1.82h-1zM377.00 319.50h1v-3.11h-1zM378.00 319.50h1v-2.05h-1zM379.00 319.50h1v-2.89h-1zM380.00 319.50h1v-2.70h-1zM381.00 319.50h1v-3.07h-1zM382.00 319.50h1v-2.60h-1zM383.00 319.50h1v-2.49h-1zM384.00 319.50h1v-3.02h-1zM385.00 319.50h1v-1.96h-1zM386.00 319.50h1v-3.42h-1zM387.00 319.50h1v-5.30h-1zM388.00 319.50h1v-2.63h-1zM389.00 319.50h1v-2.19h-1zM390.00 319.50h1v-3.01h-1zM391.00 319.50h1v-2.64h-1zM392.00 319.50h1v-3.44h-1zM393.00 319.50h1v-3.30h-1zM394.00 319.50h1v-2.59h-1zM395.00 319.50h1v-2.41h-1zM396.00 319.50h1v-1.52h-1zM397.00 319.50h1v-2.03h-1zM398.00 319.50h1v-1.75h-1zM399.00 319.50h1v-2.85h-1zM400.00 319.50h1v-1.44h-1zM401.00 319.50h1v-2.33h-1zM402.00 319.50h1v-4.70h-1zM403.00 319.50h1v-3.24h-1zM404.00 319.50h1v-1.28h-1zM405.00 319.50h1v-3.07h-1zM406.00 319.50h1v-2.61h-1zM407.00 319.50h1v-3.13h-1zM408.00 319.50h1v-2.79h-1zM409.00 319.50h1v-2.12h-1zM410.00 319.50h1v-2.07h-1zM411.00 319.50h1v-1.73h-1zM412.00 319.50h1v-2.26h-1zM413.00 319.50h1v-1.69h-1zM414.00 319.50h1v-1.96h-1zM415.00 319.50h1v-3.29h-1zM416.00 319.50h1v-1.31h-1zM417.00 319.50h1v-3.17h-1zM418.00 319.50h1v-2.08h-1zM419.00 319.50h1v-3.31h-1zM420.00 319.50h1v-3.22h-1zM421.00 319.50h1v-1.55h-1zM422.00 319.50h1v-1.23h-1zM423.00 319.50h1v-4.26h-1zM424.00 319.50h1v-1.50h-1zM425.00 319.50h1v-3.13h-1zM426.00 319.50h1v-5.18h-1zM427.00 319.50h1v-1.30h-1zM428.00 319.50h1v-1.47h-1zM429.00 319.50h1v-1.26h-1zM430.00 319.50h1v-2.91h-1zM431.00 319.50h1v-3.14h-1zM432.00 319.50h1v-2.10h-1zM433.00 319.50h1v-3.43h-1zM434.00 319.50h1v-5.37h-1zM435.00 319.50h1v-2.56h-1zM436.00 319.50h1v-2.59h-1zM437.00 319.50h1v-4.21h-1zM438.00 319.50h1v-2.15h-1zM439.00 319.50h1v-3.22h-1zM440.00 319.50h1v-2.72h-1zM441.00 319.50h1v-2.91h-1zM442.00 319.50h1v-2.93h-1zM443.00 319.50h1v-3.45h-1zM444.00 319.50h1v-3.31h-1zM445.00 319.50h1v-3.68h-1zM446.00 319.50h1v-3.07h-1zM447.00 319.50h1v-2.05h-1zM448.00 319.50h1v-1.29h-1zM449.00 319.50h1v-2.22h-1zM450.00 319.50h1v-2.11h-1zM451.00 319.50h1v-4.55h-1zM452.00 319.50h1v-1.41h-1zM453.00 319.50h1v-4.27h-1zM454.00 319.50h1v-2.88h-1zM455.00 319.50h1v-1.50h-1zM456.00 319.50h1v-3.06h-1zM457.00 319.50h1v-1.90h-1zM458.00 319.50h1v-1.76h-1zM459.00 319.50h1v-1.96h-1zM460.00 319.50h1v-3.00h-1zM461.00 319.50h1v-2.54h-1zM462.00 319.50h1v-2.70h-1zM463.00 319.50h1v-3.47h-1zM464.00 319.50h1v-3.12h-1zM465.00 319.50h1v-2.43h-1zM466.00 319.50h1v-3.11h-1zM467.00 319.50h1v-1.56h-1zM468.00 319.50h1v-2.40h-1zM469.00 319.50h1v-1.99h-1zM470.00 319.50h1v-1.30h-1zM471.00 319.50h1v-2.70h-1zM472.00 319.50h1v-1.89h-1zM473.00 319.50h1v-1.95h-1zM474.00 319.50h1v-2.35h-1zM475.00 319.50h1v-1.54h-1zM476.00 319.50h1v-1.95h-1zM477.00 319.50h1v-1.36h-1zM478.00 319.50h1v-2.30h-1zM479.00 319.50h1v-3.33h-1zM480.00 319.50h1v-3.08h-1zM481.00 319.50h1v-3.32h-1zM482.00 319.50h1v-1.51h-1zM483.00 319.50h1v-2.52h-1zM484.00 319.50h1v-3.00h-1zM485.00 319.50h1v-2.92h-1zM486.00 319.50h1v-3.37h-1zM487.00 319.50h1v-2.13h-1zM488.00 319.50h1v-3.45h-1zM489.00 319.50h1v-1.59h-1zM490.00 319.50h1v-2.78h-1zM491.00 319.50h1v-3.29h-1zM492.00 319.50h1v-2.15h-1zM493.00 319.50h1v-1.32h-1zM494.00 319.50h1v-2.46h-1zM495.00 319.50h1v-1.45h-1zM496.00 319.50h1v-2.65h-1zM497.00 319.50h1v-1.38h-1zM498.00 319.50h1v-3.16h-1zM499.00 319.50h1v-1.60h-1zM500.00 319.50h1v-1.25h-1zM501.00 319.50h1v-3.15h-1zM502.00 319.50h1v-1.85h-1zM503.00 319.50h1v-2.58h-1zM504.00 319.50h1v-3.25h-1zM505.00 319.50h1v-2.75h-1zM506.00 319.50h1v-3.37h-1zM507.00 319.50h1v-2.87h-1zM508.00 319.50h1v-3.50h-1zM509.00 319.50h1v-1.66h-1zM510.00 319.50h1v-2.97h-1zM511.00 319.50h1v-2.32h-1zM512.00 319.50h1v-3.23h-1zM513.00 319.50h1v-5.20h-1zM514.00 319.50h1v-2.25h-1zM515.00 319.50h1v-1.89h-1zM516.00 319.50h1v-1.21h-1zM517.00 319.50h1v-1.90h-1zM518.00 319.50h1v-2.92h-1zM519.00 319.50h1v-2.45h-1z" fill="#141414"/>
<path d="M110 388.50h1v-12.00h-1zM183 388.50h1v-2.50h-1zM455 388.50h1v-2.00h-1zM457 388.50h1v-10.00h-1zM507 388.50h1v-20.00h-1z" fill="#1e1e1e"/>
<path d="M104 415.10h1v-1.50h-1zM107 415.10h1v-1.50h-1zM109 415.10h1v-1.50h-1zM111 415.10h1v-1.50h-1zM120 415.10h1v-2.00h-1zM170 415.10h1v-3.00h-1zM183 415.10h1v-3.00h-1zM210 415.10h1v-1.50h-1zM215 415.10h1v-1.50h-1zM220 415.10h1v-1.50h-1zM228 415.10h1v-1.50h-1zM233 415.10h1v-1.50h-1zM276 415.10h1v-1.50h-1zM284 415.10h1v-13.00h-1zM287 415.10h1v-4.00h-1zM288 415.10h1v-3.00h-1zM292 415.10h1v-12.00h-1zM341 415.10h1v-2.00h-1zM348 415.10h1v-2.00h-1zM372 415.10h1v-1.50h-1zM379 415.10h1v-1.00h-1zM385 415.10h1v-1.00h-1zM392 415.10h1v-1.00h-1zM445 415.10h1v-2.00h-1zM447 415.10h1v-3.00h-1zM450 415.10h1v-2.00h-1zM490 415.10h1v-1.50h-1zM495 415.10h1v-1.50h-1zM500 415.10h1v-1.50h-1zM510 415.10h1v-1.50h-1z" fill="#6e2418"/>
<path d="M122 442.60h1v-1.50h-1zM135 442.60h1v-1.50h-1zM143 442.60h1v-2.00h-1zM144 442.60h1v-2.00h-1zM150 442.60h1v-2.00h-1zM172 442.60h1v-1.50h-1zM183 442.60h1v-1.50h-1zM260 442.60h1v-1.00h-1zM267 442.60h1v-1.00h-1zM283 442.60h1v-1.50h-1zM286 442.60h1v-1.50h-1zM290 442.60h1v-1.50h-1zM313 442.60h1v-1.00h-1zM425 442.60h1v-1.00h-1zM430 442.60h1v-1.50h-1zM431 442.60h1v-2.50h-1zM433 442.60h1v-1.50h-1z" fill="#74407a"/>
<path d="M99 471.20h1v-2.00h-1zM120 471.20h1v-4.00h-1zM131 471.20h1v-7.00h-1zM170 471.20h1v-3.00h-1zM183 471.20h1v-2.00h-1zM189 471.20h1v-2.00h-1zM191 471.20h1v-3.00h-1zM193 471.20h1v-2.00h-1zM220 471.20h1v-1.50h-1zM264 471.20h1v-4.00h-1zM274 471.20h1v-5.00h-1zM282 471.20h1v-8.00h-1zM297 471.20h1v-17.00h-1zM316 471.20h1v-17.00h-1zM322 471.20h1v-4.00h-1zM335 471.20h1v-1.50h-1zM352 471.20h1v-2.00h-1zM394 471.20h1v-2.50h-1zM405 471.20h1v-3.00h-1zM415 471.20h1v-1.50h-1zM427 471.20h1v-2.00h-1zM435 471.20h1v-13.00h-1zM470 471.20h1v-1.00h-1zM503 471.20h1v-1.00h-1z" fill="#86b8c8"/>
<path d="M99 499.60h1v-1.00h-1zM110 499.60h1v-17.00h-1zM152 499.60h1v-1.50h-1zM179 499.60h1v-11.00h-1zM191 499.60h1v-2.00h-1zM313 499.60h1v-1.50h-1zM316 499.60h1v-1.00h-1zM403 499.60h1v-1.00h-1zM410 499.60h1v-1.00h-1zM449 499.60h1v-1.00h-1zM456 499.60h1v-3.50h-1zM475 499.60h1v-1.50h-1zM507 499.60h1v-8.00h-1z" fill="#38386a"/>
<path d="M110 529.80h1v-14.00h-1zM152 529.80h1v-1.00h-1zM179 529.80h1v-12.00h-1zM313 529.80h1v-1.00h-1zM403 529.80h1v-1.00h-1zM456 529.80h1v-3.00h-1zM507 529.80h1v-9.00h-1z" fill="#6a4078"/>
<path d="M110 560.10h1v-9.00h-1zM130 560.10h1v-2.00h-1zM146 560.10h1v-2.00h-1zM152 560.10h1v-4.00h-1zM179 560.10h1v-15.00h-1zM182 560.10h1v-2.50h-1zM192 560.10h1v-2.00h-1zM256 560.10h1v-2.00h-1zM447 560.10h1v-17.00h-1zM457 560.10h1v-6.00h-1zM507 560.10h1v-5.00h-1zM97.00 560.10h1v-1.56h-1zM99.00 560.10h1v-0.69h-1zM103.00 560.10h1v-1.44h-1zM107.00 560.10h1v-0.85h-1zM110.00 560.10h1v-1.21h-1zM113.00 560.10h1v-1.60h-1zM118.00 560.10h1v-1.40h-1zM122.00 560.10h1v-1.14h-1zM127.00 560.10h1v-1.10h-1zM129.00 560.10h1v-1.47h-1zM133.00 560.10h1v-1.06h-1zM137.00 560.10h1v-1.51h-1zM142.00 560.10h1v-1.49h-1zM145.00 560.10h1v-1.16h-1zM148.00 560.10h1v-0.83h-1zM151.00 560.10h1v-0.93h-1zM154.00 560.10h1v-1.11h-1zM158.00 560.10h1v-1.60h-1zM161.00 560.10h1v-1.60h-1zM166.00 560.10h1v-1.40h-1zM170.00 560.10h1v-1.39h-1zM174.00 560.10h1v-0.96h-1zM179.00 560.10h1v-0.76h-1zM184.00 560.10h1v-1.32h-1zM189.00 560.10h1v-1.25h-1zM192.00 560.10h1v-1.09h-1zM197.00 560.10h1v-1.10h-1zM201.00 560.10h1v-1.26h-1zM206.00 560.10h1v-1.50h-1zM211.00 560.10h1v-0.95h-1zM216.00 560.10h1v-1.09h-1zM219.00 560.10h1v-1.54h-1zM222.00 560.10h1v-1.48h-1zM226.00 560.10h1v-1.37h-1zM231.00 560.10h1v-0.91h-1zM236.00 560.10h1v-0.91h-1zM239.00 560.10h1v-1.09h-1zM243.00 560.10h1v-1.53h-1zM245.00 560.10h1v-1.38h-1zM249.00 560.10h1v-1.33h-1zM252.00 560.10h1v-1.60h-1zM254.00 560.10h1v-0.66h-1zM256.00 560.10h1v-0.87h-1zM259.00 560.10h1v-1.28h-1zM261.00 560.10h1v-1.35h-1zM264.00 560.10h1v-1.45h-1zM267.00 560.10h1v-1.42h-1zM269.00 560.10h1v-1.02h-1zM271.00 560.10h1v-0.66h-1zM275.00 560.10h1v-0.77h-1zM277.00 560.10h1v-0.68h-1zM279.00 560.10h1v-0.63h-1zM281.00 560.10h1v-0.97h-1zM284.00 560.10h1v-1.41h-1zM287.00 560.10h1v-1.33h-1zM289.00 560.10h1v-0.99h-1zM291.00 560.10h1v-1.39h-1zM294.00 560.10h1v-0.75h-1zM296.00 560.10h1v-0.60h-1zM298.00 560.10h1v-0.89h-1zM303.00 560.10h1v-0.63h-1zM308.00 560.10h1v-1.15h-1zM310.00 560.10h1v-1.50h-1zM315.00 560.10h1v-1.46h-1zM318.00 560.10h1v-1.07h-1zM321.00 560.10h1v-0.69h-1zM325.00 560.10h1v-1.44h-1zM327.00 560.10h1v-1.05h-1zM330.00 560.10h1v-1.12h-1zM335.00 560.10h1v-1.09h-1zM339.00 560.10h1v-0.74h-1zM343.00 560.10h1v-0.86h-1zM348.00 560.10h1v-1.25h-1zM351.00 560.10h1v-1.27h-1zM355.00 560.10h1v-0.63h-1zM358.00 560.10h1v-0.77h-1zM363.00 560.10h1v-1.24h-1zM365.00 560.10h1v-1.59h-1zM368.00 560.10h1v-1.31h-1zM370.00 560.10h1v-0.85h-1zM373.00 560.10h1v-1.22h-1zM377.00 560.10h1v-0.86h-1zM382.00 560.10h1v-0.88h-1zM384.00 560.10h1v-0.75h-1zM389.00 560.10h1v-1.01h-1zM391.00 560.10h1v-1.11h-1zM393.00 560.10h1v-0.84h-1zM395.00 560.10h1v-0.62h-1zM398.00 560.10h1v-0.71h-1zM400.00 560.10h1v-1.12h-1zM405.00 560.10h1v-1.05h-1zM410.00 560.10h1v-0.81h-1zM413.00 560.10h1v-1.33h-1zM418.00 560.10h1v-1.03h-1zM420.00 560.10h1v-1.18h-1zM422.00 560.10h1v-1.48h-1zM425.00 560.10h1v-1.52h-1zM430.00 560.10h1v-0.97h-1zM432.00 560.10h1v-1.21h-1zM436.00 560.10h1v-1.29h-1zM440.00 560.10h1v-0.91h-1zM445.00 560.10h1v-0.70h-1zM449.00 560.10h1v-0.80h-1zM451.00 560.10h1v-1.41h-1zM453.00 560.10h1v-1.01h-1zM458.00 560.10h1v-1.06h-1zM460.00 560.10h1v-0.61h-1zM462.00 560.10h1v-0.97h-1zM464.00 560.10h1v-0.82h-1zM469.00 560.10h1v-0.79h-1zM473.00 560.10h1v-0.99h-1zM478.00 560.10h1v-0.74h-1zM482.00 560.10h1v-1.00h-1zM484.00 560.10h1v-0.85h-1zM486.00 560.10h1v-0.68h-1zM490.00 560.10h1v-1.24h-1zM493.00 560.10h1v-1.29h-1zM495.00 560.10h1v-1.22h-1zM500.00 560.10h1v-1.38h-1zM505.00 560.10h1v-0.89h-1zM510.00 560.10h1v-0.74h-1zM514.00 560.10h1v-0.87h-1zM519.00 560.10h1v-1.32h-1z" fill="#789a48"/>
<path d="M100 590.10h1v-1.50h-1zM110 590.10h1v-2.00h-1zM152 590.10h1v-3.00h-1zM179 590.10h1v-9.00h-1zM219 590.10h1v-1.50h-1zM256 590.10h1v-2.00h-1zM292 590.10h1v-2.00h-1zM329 590.10h1v-2.50h-1zM331 590.10h1v-2.00h-1zM447 590.10h1v-12.00h-1zM457 590.10h1v-11.00h-1zM507 590.10h1v-2.00h-1zM97.00 590.10h1v-1.07h-1zM101.00 590.10h1v-0.80h-1zM104.00 590.10h1v-0.84h-1zM108.00 590.10h1v-0.87h-1zM110.00 590.10h1v-0.89h-1zM112.00 590.10h1v-0.64h-1zM115.00 590.10h1v-1.10h-1zM118.00 590.10h1v-1.00h-1zM120.00 590.10h1v-1.00h-1zM122.00 590.10h1v-0.66h-1zM126.00 590.10h1v-0.80h-1zM130.00 590.10h1v-0.82h-1zM134.00 590.10h1v-0.66h-1zM139.00 590.10h1v-0.65h-1zM142.00 590.10h1v-0.96h-1zM146.00 590.10h1v-0.68h-1zM149.00 590.10h1v-0.83h-1zM152.00 590.10h1v-0.80h-1zM156.00 590.10h1v-0.99h-1zM159.00 590.10h1v-0.83h-1zM161.00 590.10h1v-1.00h-1zM166.00 590.10h1v-1.04h-1zM169.00 590.10h1v-0.80h-1zM171.00 590.10h1v-0.84h-1zM176.00 590.10h1v-0.73h-1zM181.00 590.10h1v-0.95h-1zM186.00 590.10h1v-0.78h-1zM190.00 590.10h1v-0.96h-1zM192.00 590.10h1v-0.98h-1zM195.00 590.10h1v-0.87h-1zM198.00 590.10h1v-0.80h-1zM203.00 590.10h1v-1.09h-1zM205.00 590.10h1v-0.76h-1zM210.00 590.10h1v-0.93h-1zM212.00 590.10h1v-0.61h-1zM215.00 590.10h1v-0.96h-1zM220.00 590.10h1v-1.05h-1zM222.00 590.10h1v-0.79h-1zM225.00 590.10h1v-0.74h-1zM228.00 590.10h1v-0.84h-1zM231.00 590.10h1v-0.60h-1zM236.00 590.10h1v-0.84h-1zM239.00 590.10h1v-0.83h-1zM242.00 590.10h1v-1.09h-1zM244.00 590.10h1v-0.78h-1zM249.00 590.10h1v-0.87h-1zM251.00 590.10h1v-0.98h-1zM256.00 590.10h1v-1.06h-1zM260.00 590.10h1v-0.83h-1zM265.00 590.10h1v-0.61h-1zM267.00 590.10h1v-0.91h-1zM271.00 590.10h1v-0.69h-1zM276.00 590.10h1v-0.73h-1zM279.00 590.10h1v-0.63h-1zM284.00 590.10h1v-0.79h-1zM289.00 590.10h1v-0.94h-1zM292.00 590.10h1v-0.61h-1zM297.00 590.10h1v-1.08h-1zM301.00 590.10h1v-0.62h-1zM306.00 590.10h1v-0.88h-1zM309.00 590.10h1v-1.04h-1zM313.00 590.10h1v-0.85h-1zM316.00 590.10h1v-0.84h-1zM320.00 590.10h1v-0.64h-1zM324.00 590.10h1v-0.75h-1zM328.00 590.10h1v-0.93h-1zM333.00 590.10h1v-0.86h-1zM335.00 590.10h1v-0.85h-1zM338.00 590.10h1v-0.80h-1zM341.00 590.10h1v-1.00h-1zM343.00 590.10h1v-0.75h-1zM346.00 590.10h1v-1.07h-1zM349.00 590.10h1v-0.86h-1zM351.00 590.10h1v-1.08h-1zM353.00 590.10h1v-0.94h-1zM358.00 590.10h1v-1.03h-1zM361.00 590.10h1v-0.76h-1zM363.00 590.10h1v-0.77h-1zM367.00 590.10h1v-0.68h-1zM372.00 590.10h1v-1.03h-1zM377.00 590.10h1v-1.05h-1zM382.00 590.10h1v-1.10h-1zM385.00 590.10h1v-1.06h-1zM389.00 590.10h1v-0.68h-1zM392.00 590.10h1v-0.83h-1zM396.00 590.10h1v-0.69h-1zM399.00 590.10h1v-1.00h-1zM402.00 590.10h1v-0.73h-1zM407.00 590.10h1v-0.80h-1zM411.00 590.10h1v-0.74h-1zM415.00 590.10h1v-0.97h-1zM419.00 590.10h1v-0.87h-1zM421.00 590.10h1v-0.78h-1zM426.00 590.10h1v-0.84h-1zM430.00 590.10h1v-1.08h-1zM434.00 590.10h1v-0.82h-1zM436.00 590.10h1v-1.05h-1zM439.00 590.10h1v-0.76h-1zM444.00 590.10h1v-0.66h-1zM446.00 590.10h1v-0.65h-1zM449.00 590.10h1v-0.78h-1zM454.00 590.10h1v-0.60h-1zM458.00 590.10h1v-0.72h-1zM463.00 590.10h1v-0.87h-1zM468.00 590.10h1v-0.92h-1zM471.00 590.10h1v-0.78h-1zM474.00 590.10h1v-1.06h-1zM476.00 590.10h1v-1.09h-1zM479.00 590.10h1v-0.77h-1zM482.00 590.10h1v-0.81h-1zM486.00 590.10h1v-0.64h-1zM489.00 590.10h1v-0.72h-1zM492.00 590.10h1v-0.96h-1zM494.00 590.10h1v-0.77h-1zM498.00 590.10h1v-0.92h-1zM500.00 590.10h1v-1.03h-1zM503.00 590.10h1v-1.03h-1zM508.00 590.10h1v-0.82h-1zM512.00 590.10h1v-0.67h-1zM514.00 590.10h1v-0.77h-1zM519.00 590.10h1v-0.71h-1z" fill="#d49a60"/>
<path d="M107 618.20h1v-4.00h-1zM108 618.20h1v-6.00h-1zM108 618.20h1v-8.00h-1zM109 618.20h1v-7.00h-1zM110 618.20h1v-4.00h-1zM122 618.20h1v-3.00h-1zM130 618.20h1v-3.00h-1zM137 618.20h1v-3.00h-1zM150 618.20h1v-4.00h-1zM151 618.20h1v-6.00h-1zM152 618.20h1v-8.00h-1zM153 618.20h1v-6.00h-1zM154 618.20h1v-3.00h-1zM163 618.20h1v-3.00h-1zM168 618.20h1v-3.00h-1zM177 618.20h1v-4.00h-1zM178 618.20h1v-7.00h-1zM179 618.20h1v-13.00h-1zM180 618.20h1v-9.00h-1zM181 618.20h1v-6.00h-1zM182 618.20h1v-4.00h-1zM185 618.20h1v-3.00h-1zM188 618.20h1v-3.50h-1zM191 618.20h1v-3.00h-1zM194 618.20h1v-4.00h-1zM197 618.20h1v-3.00h-1zM200 618.20h1v-3.00h-1zM243 618.20h1v-2.00h-1zM313 618.20h1v-4.00h-1zM315 618.20h1v-4.00h-1zM322 618.20h1v-8.00h-1zM324 618.20h1v-5.00h-1zM343 618.20h1v-4.00h-1zM347 618.20h1v-4.00h-1zM365 618.20h1v-2.00h-1zM391 618.20h1v-2.00h-1zM425 618.20h1v-2.00h-1zM447 618.20h1v-7.00h-1zM448 618.20h1v-8.50h-1zM449 618.20h1v-6.00h-1zM450 618.20h1v-3.00h-1zM451 618.20h1v-3.00h-1zM455 618.20h1v-6.00h-1zM456 618.20h1v-12.00h-1zM457 618.20h1v-14.70h-1zM458 618.20h1v-12.00h-1zM459 618.20h1v-6.00h-1zM462 618.20h1v-5.00h-1zM463 618.20h1v-3.00h-1zM467 618.20h1v-5.00h-1zM478 618.20h1v-2.00h-1zM498 618.20h1v-8.00h-1zM499 618.20h1v-12.00h-1zM500 618.20h1v-7.00h-1zM501 618.20h1v-5.00h-1zM502 618.20h1v-5.00h-1zM503 618.20h1v-5.00h-1zM504 618.20h1v-6.00h-1zM505 618.20h1v-14.00h-1zM506 618.20h1v-17.00h-1zM507 618.20h1v-16.00h-1zM508 618.20h1v-12.00h-1zM509 618.20h1v-8.00h-1zM510 618.20h1v-4.00h-1zM96.00 618.20h1v-1.27h-1zM97.00 618.20h1v-1.41h-1zM98.00 618.20h1v-1.65h-1zM99.00 618.20h1v-1.14h-1zM100.00 618.20h1v-2.02h-1zM101.00 618.20h1v-1.62h-1zM102.00 618.20h1v-1.60h-1zM103.00 618.20h1v-1.52h-1zM104.00 618.20h1v-2.27h-1zM105.00 618.20h1v-2.28h-1zM106.00 618.20h1v-2.03h-1zM107.00 618.20h1v-1.37h-1zM108.00 618.20h1v-1.30h-1zM109.00 618.20h1v-1.49h-1zM110.00 618.20h1v-0.68h-1zM111.00 618.20h1v-0.78h-1zM112.00 618.20h1v-2.29h-1zM113.00 618.20h1v-0.82h-1zM114.00 618.20h1v-2.19h-1zM115.00 618.20h1v-1.76h-1zM116.00 618.20h1v-2.16h-1zM117.00 618.20h1v-0.73h-1zM118.00 618.20h1v-1.12h-1zM119.00 618.20h1v-1.96h-1zM120.00 618.20h1v-0.62h-1zM121.00 618.20h1v-0.78h-1zM122.00 618.20h1v-1.20h-1zM123.00 618.20h1v-0.89h-1zM124.00 618.20h1v-0.85h-1zM125.00 618.20h1v-1.74h-1zM126.00 618.20h1v-0.76h-1zM127.00 618.20h1v-2.25h-1zM128.00 618.20h1v-1.70h-1zM129.00 618.20h1v-0.68h-1zM130.00 618.20h1v-2.13h-1zM131.00 618.20h1v-1.01h-1zM132.00 618.20h1v-1.42h-1zM133.00 618.20h1v-1.55h-1zM134.00 618.20h1v-0.84h-1zM135.00 618.20h1v-1.45h-1zM136.00 618.20h1v-0.70h-1zM137.00 618.20h1v-0.94h-1zM138.00 618.20h1v-2.16h-1zM139.00 618.20h1v-2.00h-1zM140.00 618.20h1v-1.49h-1zM141.00 618.20h1v-1.76h-1zM142.00 618.20h1v-2.09h-1zM143.00 618.20h1v-0.84h-1zM144.00 618.20h1v-1.44h-1zM145.00 618.20h1v-0.82h-1zM146.00 618.20h1v-0.80h-1zM147.00 618.20h1v-0.78h-1zM148.00 618.20h1v-0.96h-1zM149.00 618.20h1v-0.69h-1zM150.00 618.20h1v-0.97h-1zM151.00 618.20h1v-1.24h-1zM152.00 618.20h1v-1.66h-1zM153.00 618.20h1v-2.06h-1zM154.00 618.20h1v-2.14h-1zM155.00 618.20h1v-1.82h-1zM156.00 618.20h1v-1.46h-1zM157.00 618.20h1v-2.16h-1zM158.00 618.20h1v-0.88h-1zM159.00 618.20h1v-0.78h-1zM160.00 618.20h1v-1.99h-1zM161.00 618.20h1v-1.67h-1zM162.00 618.20h1v-0.96h-1zM163.00 618.20h1v-1.24h-1zM164.00 618.20h1v-1.11h-1zM165.00 618.20h1v-1.33h-1zM166.00 618.20h1v-1.33h-1zM167.00 618.20h1v-1.28h-1zM168.00 618.20h1v-1.96h-1zM169.00 618.20h1v-1.98h-1zM170.00 618.20h1v-1.56h-1zM171.00 618.20h1v-1.40h-1zM172.00 618.20h1v-1.08h-1zM173.00 618.20h1v-1.90h-1zM174.00 618.20h1v-2.28h-1zM175.00 618.20h1v-0.99h-1zM176.00 618.20h1v-1.80h-1zM177.00 618.20h1v-1.79h-1zM178.00 618.20h1v-1.72h-1zM179.00 618.20h1v-0.65h-1zM180.00 618.20h1v-1.54h-1zM181.00 618.20h1v-0.94h-1zM182.00 618.20h1v-0.93h-1zM183.00 618.20h1v-1.59h-1zM184.00 618.20h1v-1.70h-1zM185.00 618.20h1v-1.66h-1zM186.00 618.20h1v-1.86h-1zM187.00 618.20h1v-1.79h-1zM188.00 618.20h1v-1.41h-1zM189.00 618.20h1v-0.68h-1zM190.00 618.20h1v-1.91h-1zM191.00 618.20h1v-2.00h-1zM192.00 618.20h1v-2.02h-1zM193.00 618.20h1v-1.62h-1zM194.00 618.20h1v-0.66h-1zM195.00 618.20h1v-0.93h-1zM196.00 618.20h1v-0.78h-1zM197.00 618.20h1v-1.68h-1zM198.00 618.20h1v-1.53h-1zM199.00 618.20h1v-0.92h-1zM200.00 618.20h1v-2.22h-1zM201.00 618.20h1v-2.26h-1zM202.00 618.20h1v-2.13h-1zM203.00 618.20h1v-1.39h-1zM204.00 618.20h1v-1.10h-1zM205.00 618.20h1v-0.96h-1zM206.00 618.20h1v-2.00h-1zM207.00 618.20h1v-1.79h-1zM208.00 618.20h1v-1.07h-1zM209.00 618.20h1v-2.13h-1zM210.00 618.20h1v-1.57h-1zM211.00 618.20h1v-1.30h-1zM212.00 618.20h1v-1.31h-1zM213.00 618.20h1v-1.82h-1zM214.00 618.20h1v-1.37h-1zM215.00 618.20h1v-1.72h-1zM216.00 618.20h1v-0.81h-1zM217.00 618.20h1v-1.79h-1zM218.00 618.20h1v-1.06h-1zM219.00 618.20h1v-2.15h-1zM220.00 618.20h1v-0.96h-1zM221.00 618.20h1v-1.17h-1zM222.00 618.20h1v-1.51h-1zM223.00 618.20h1v-1.27h-1zM224.00 618.20h1v-1.49h-1zM225.00 618.20h1v-2.17h-1zM226.00 618.20h1v-0.94h-1zM227.00 618.20h1v-1.91h-1zM228.00 618.20h1v-1.78h-1zM229.00 618.20h1v-1.94h-1zM230.00 618.20h1v-1.36h-1zM231.00 618.20h1v-1.37h-1zM232.00 618.20h1v-1.19h-1zM233.00 618.20h1v-1.40h-1zM234.00 618.20h1v-1.03h-1zM235.00 618.20h1v-0.92h-1zM236.00 618.20h1v-1.41h-1zM237.00 618.20h1v-0.93h-1zM238.00 618.20h1v-1.40h-1zM239.00 618.20h1v-1.57h-1zM240.00 618.20h1v-1.13h-1zM241.00 618.20h1v-0.89h-1zM242.00 618.20h1v-1.63h-1zM243.00 618.20h1v-2.06h-1zM244.00 618.20h1v-0.98h-1zM245.00 618.20h1v-1.65h-1zM246.00 618.20h1v-1.72h-1zM247.00 618.20h1v-2.10h-1zM248.00 618.20h1v-1.76h-1zM249.00 618.20h1v-1.12h-1zM250.00 618.20h1v-0.95h-1zM251.00 618.20h1v-2.02h-1zM252.00 618.20h1v-1.11h-1zM253.00 618.20h1v-0.62h-1zM254.00 618.20h1v-2.08h-1zM255.00 618.20h1v-0.94h-1zM256.00 618.20h1v-1.13h-1zM257.00 618.20h1v-1.14h-1zM258.00 618.20h1v-1.04h-1zM259.00 618.20h1v-1.83h-1zM260.00 618.20h1v-1.18h-1zM261.00 618.20h1v-1.35h-1zM262.00 618.20h1v-1.31h-1zM263.00 618.20h1v-2.02h-1zM264.00 618.20h1v-0.63h-1zM265.00 618.20h1v-1.59h-1zM266.00 618.20h1v-0.82h-1zM267.00 618.20h1v-0.86h-1zM268.00 618.20h1v-1.63h-1zM269.00 618.20h1v-1.24h-1zM270.00 618.20h1v-0.71h-1zM271.00 618.20h1v-1.60h-1zM272.00 618.20h1v-2.15h-1zM273.00 618.20h1v-1.70h-1zM274.00 618.20h1v-1.44h-1zM275.00 618.20h1v-1.96h-1zM276.00 618.20h1v-2.16h-1zM277.00 618.20h1v-0.86h-1zM278.00 618.20h1v-1.11h-1zM279.00 618.20h1v-2.24h-1zM280.00 618.20h1v-2.17h-1zM281.00 618.20h1v-0.94h-1zM282.00 618.20h1v-1.80h-1zM283.00 618.20h1v-2.09h-1zM284.00 618.20h1v-1.61h-1zM285.00 618.20h1v-1.79h-1zM286.00 618.20h1v-1.49h-1zM287.00 618.20h1v-1.00h-1zM288.00 618.20h1v-0.96h-1zM289.00 618.20h1v-0.71h-1zM290.00 618.20h1v-1.73h-1zM291.00 618.20h1v-0.84h-1zM292.00 618.20h1v-1.66h-1zM293.00 618.20h1v-1.27h-1zM294.00 618.20h1v-1.34h-1zM295.00 618.20h1v-2.25h-1zM296.00 618.20h1v-1.27h-1zM297.00 618.20h1v-1.41h-1zM298.00 618.20h1v-1.25h-1zM299.00 618.20h1v-0.97h-1zM300.00 618.20h1v-0.98h-1zM301.00 618.20h1v-1.51h-1zM302.00 618.20h1v-1.99h-1zM303.00 618.20h1v-0.75h-1zM304.00 618.20h1v-2.21h-1zM305.00 618.20h1v-1.75h-1zM306.00 618.20h1v-0.69h-1zM307.00 618.20h1v-1.80h-1zM308.00 618.20h1v-1.28h-1zM309.00 618.20h1v-1.47h-1zM310.00 618.20h1v-0.77h-1zM311.00 618.20h1v-1.47h-1zM312.00 618.20h1v-1.48h-1zM313.00 618.20h1v-1.93h-1zM314.00 618.20h1v-1.59h-1zM315.00 618.20h1v-1.80h-1zM316.00 618.20h1v-1.85h-1zM317.00 618.20h1v-0.98h-1zM318.00 618.20h1v-0.64h-1zM319.00 618.20h1v-1.41h-1zM320.00 618.20h1v-0.82h-1zM321.00 618.20h1v-0.84h-1zM322.00 618.20h1v-1.15h-1zM323.00 618.20h1v-1.51h-1zM324.00 618.20h1v-1.65h-1zM325.00 618.20h1v-1.70h-1zM326.00 618.20h1v-2.20h-1zM327.00 618.20h1v-0.77h-1zM328.00 618.20h1v-1.55h-1zM329.00 618.20h1v-0.75h-1zM330.00 618.20h1v-1.74h-1zM331.00 618.20h1v-1.34h-1zM332.00 618.20h1v-0.84h-1zM333.00 618.20h1v-1.13h-1zM334.00 618.20h1v-1.72h-1zM335.00 618.20h1v-1.40h-1zM336.00 618.20h1v-2.21h-1zM337.00 618.20h1v-1.20h-1zM338.00 618.20h1v-1.18h-1zM339.00 618.20h1v-2.17h-1zM340.00 618.20h1v-1.63h-1zM341.00 618.20h1v-0.78h-1zM342.00 618.20h1v-1.93h-1zM343.00 618.20h1v-1.22h-1zM344.00 618.20h1v-2.21h-1zM345.00 618.20h1v-1.68h-1zM346.00 618.20h1v-1.97h-1zM347.00 618.20h1v-2.12h-1zM348.00 618.20h1v-1.47h-1zM349.00 618.20h1v-2.24h-1zM350.00 618.20h1v-0.64h-1zM351.00 618.20h1v-1.18h-1zM352.00 618.20h1v-2.02h-1zM353.00 618.20h1v-0.61h-1zM354.00 618.20h1v-1.74h-1zM355.00 618.20h1v-2.30h-1zM356.00 618.20h1v-1.82h-1zM357.00 618.20h1v-2.07h-1zM358.00 618.20h1v-0.73h-1zM359.00 618.20h1v-1.52h-1zM360.00 618.20h1v-1.64h-1zM361.00 618.20h1v-1.34h-1zM362.00 618.20h1v-1.31h-1zM363.00 618.20h1v-1.94h-1zM364.00 618.20h1v-0.88h-1zM365.00 618.20h1v-0.68h-1zM366.00 618.20h1v-1.61h-1zM367.00 618.20h1v-2.24h-1zM368.00 618.20h1v-2.01h-1zM369.00 618.20h1v-1.74h-1zM370.00 618.20h1v-1.10h-1zM371.00 618.20h1v-2.14h-1zM372.00 618.20h1v-0.67h-1zM373.00 618.20h1v-1.02h-1zM374.00 618.20h1v-1.94h-1zM375.00 618.20h1v-2.12h-1zM376.00 618.20h1v-1.28h-1zM377.00 618.20h1v-2.15h-1zM378.00 618.20h1v-0.79h-1zM379.00 618.20h1v-1.61h-1zM380.00 618.20h1v-0.71h-1zM381.00 618.20h1v-1.00h-1zM382.00 618.20h1v-0.92h-1zM383.00 618.20h1v-0.61h-1zM384.00 618.20h1v-1.29h-1zM385.00 618.20h1v-1.45h-1zM386.00 618.20h1v-1.08h-1zM387.00 618.20h1v-1.71h-1zM388.00 618.20h1v-0.69h-1zM389.00 618.20h1v-1.48h-1zM390.00 618.20h1v-1.50h-1zM391.00 618.20h1v-1.29h-1zM392.00 618.20h1v-2.16h-1zM393.00 618.20h1v-0.82h-1zM394.00 618.20h1v-1.33h-1zM395.00 618.20h1v-1.38h-1zM396.00 618.20h1v-1.23h-1zM397.00 618.20h1v-2.26h-1zM398.00 618.20h1v-1.57h-1zM399.00 618.20h1v-1.48h-1zM400.00 618.20h1v-1.35h-1zM401.00 618.20h1v-1.34h-1zM402.00 618.20h1v-2.22h-1zM403.00 618.20h1v-1.96h-1zM404.00 618.20h1v-1.70h-1zM405.00 618.20h1v-0.88h-1zM406.00 618.20h1v-1.61h-1zM407.00 618.20h1v-0.82h-1zM408.00 618.20h1v-1.20h-1zM409.00 618.20h1v-0.64h-1zM410.00 618.20h1v-1.80h-1zM411.00 618.20h1v-2.26h-1zM412.00 618.20h1v-1.68h-1zM413.00 618.20h1v-1.57h-1zM414.00 618.20h1v-1.03h-1zM415.00 618.20h1v-1.35h-1zM416.00 618.20h1v-1.39h-1zM417.00 618.20h1v-1.32h-1zM418.00 618.20h1v-1.06h-1zM419.00 618.20h1v-0.97h-1zM420.00 618.20h1v-1.88h-1zM421.00 618.20h1v-2.22h-1zM422.00 618.20h1v-2.00h-1zM423.00 618.20h1v-1.66h-1zM424.00 618.20h1v-0.65h-1zM425.00 618.20h1v-1.11h-1zM426.00 618.20h1v-2.03h-1zM427.00 618.20h1v-2.25h-1zM428.00 618.20h1v-1.53h-1zM429.00 618.20h1v-1.57h-1zM430.00 618.20h1v-1.77h-1zM431.00 618.20h1v-1.02h-1zM432.00 618.20h1v-1.81h-1zM433.00 618.20h1v-1.22h-1zM434.00 618.20h1v-2.04h-1zM435.00 618.20h1v-1.38h-1zM436.00 618.20h1v-1.73h-1zM437.00 618.20h1v-1.55h-1zM438.00 618.20h1v-1.51h-1zM439.00 618.20h1v-1.38h-1zM440.00 618.20h1v-2.22h-1zM441.00 618.20h1v-1.88h-1zM442.00 618.20h1v-1.31h-1zM443.00 618.20h1v-1.46h-1zM444.00 618.20h1v-2.13h-1zM445.00 618.20h1v-1.87h-1zM446.00 618.20h1v-1.71h-1zM447.00 618.20h1v-2.23h-1zM448.00 618.20h1v-0.80h-1zM449.00 618.20h1v-1.62h-1zM450.00 618.20h1v-1.66h-1zM451.00 618.20h1v-1.37h-1zM452.00 618.20h1v-2.24h-1zM453.00 618.20h1v-2.24h-1zM454.00 618.20h1v-1.26h-1zM455.00 618.20h1v-1.65h-1zM456.00 618.20h1v-1.90h-1zM457.00 618.20h1v-1.78h-1zM458.00 618.20h1v-1.22h-1zM459.00 618.20h1v-1.96h-1zM460.00 618.20h1v-1.19h-1zM461.00 618.20h1v-0.85h-1zM462.00 618.20h1v-1.73h-1zM463.00 618.20h1v-1.70h-1zM464.00 618.20h1v-1.29h-1zM465.00 618.20h1v-1.45h-1zM466.00 618.20h1v-2.28h-1zM467.00 618.20h1v-1.97h-1zM468.00 618.20h1v-1.29h-1zM469.00 618.20h1v-2.15h-1zM470.00 618.20h1v-1.57h-1zM471.00 618.20h1v-1.29h-1zM472.00 618.20h1v-1.70h-1zM473.00 618.20h1v-1.93h-1zM474.00 618.20h1v-2.12h-1zM475.00 618.20h1v-1.74h-1zM476.00 618.20h1v-1.73h-1zM477.00 618.20h1v-1.28h-1zM478.00 618.20h1v-0.67h-1zM479.00 618.20h1v-1.37h-1zM480.00 618.20h1v-0.79h-1zM481.00 618.20h1v-2.20h-1zM482.00 618.20h1v-1.22h-1zM483.00 618.20h1v-1.63h-1zM484.00 618.20h1v-1.85h-1zM485.00 618.20h1v-0.90h-1zM486.00 618.20h1v-2.02h-1zM487.00 618.20h1v-1.15h-1zM488.00 618.20h1v-0.74h-1zM489.00 618.20h1v-1.62h-1zM490.00 618.20h1v-1.28h-1zM491.00 618.20h1v-2.16h-1zM492.00 618.20h1v-1.36h-1zM493.00 618.20h1v-0.76h-1zM494.00 618.20h1v-0.63h-1zM495.00 618.20h1v-0.65h-1zM496.00 618.20h1v-1.44h-1zM497.00 618.20h1v-1.81h-1zM498.00 618.20h1v-0.69h-1zM499.00 618.20h1v-1.16h-1zM500.00 618.20h1v-1.41h-1zM501.00 618.20h1v-2.13h-1zM502.00 618.20h1v-2.25h-1zM503.00 618.20h1v-2.09h-1zM504.00 618.20h1v-1.69h-1zM505.00 618.20h1v-1.58h-1zM506.00 618.20h1v-0.98h-1zM507.00 618.20h1v-1.64h-1zM508.00 618.20h1v-0.88h-1zM509.00 618.20h1v-1.12h-1zM510.00 618.20h1v-2.01h-1zM511.00 618.20h1v-1.57h-1zM512.00 618.20h1v-1.83h-1zM513.00 618.20h1v-1.39h-1zM514.00 618.20h1v-1.07h-1zM515.00 618.20h1v-1.46h-1zM516.00 618.20h1v-1.57h-1zM517.00 618.20h1v-1.01h-1zM518.00 618.20h1v-2.04h-1zM519.00 618.20h1v-2.27h-1z" fill="#141414"/>
<defs><linearGradient id="tg" x1="0" y1="0" x2="0" y2="1"><stop offset="0" stop-color="#57529e"/><stop offset="0.1" stop-color="#6c68ae"/><stop offset="0.45" stop-color="#9d9ac8"/><stop offset="0.75" stop-color="#d0cee6"/><stop offset="1" stop-color="#f1f0f8"/></linearGradient></defs>
<polygon points="325,326.5 369,326.5 520,351 95.5,351" fill="url(#tg)"/>
<text x="141.8" y="359" font-size="6.2" fill="#333" text-anchor="end" textLength="24" lengthAdjust="spacingAndGlyphs" font-weight="normal" stroke="#333" stroke-width="0.12">58,950,000</text>
<line x1="145.0" y1="355" x2="145.0" y2="358.5" stroke="#777" stroke-width="0.5" />
<text x="191.9" y="359" font-size="6.2" fill="#333" text-anchor="end" textLength="24" lengthAdjust="spacingAndGlyphs" font-weight="normal" stroke="#333" stroke-width="0.12">59,000,000</text>
<line x1="195.1" y1="355" x2="195.1" y2="358.5" stroke="#777" stroke-width="0.5" />
<text x="242.0" y="359" font-size="6.2" fill="#333" text-anchor="end" textLength="24" lengthAdjust="spacingAndGlyphs" font-weight="normal" stroke="#333" stroke-width="0.12">59,050,000</text>
<line x1="245.2" y1="355" x2="245.2" y2="358.5" stroke="#777" stroke-width="0.5" />
<text x="292.1" y="359" font-size="6.2" fill="#333" text-anchor="end" textLength="24" lengthAdjust="spacingAndGlyphs" font-weight="normal" stroke="#333" stroke-width="0.12">59,100,000</text>
<line x1="295.3" y1="355" x2="295.3" y2="358.5" stroke="#777" stroke-width="0.5" />
<text x="342.2" y="359" font-size="6.2" fill="#333" text-anchor="end" textLength="24" lengthAdjust="spacingAndGlyphs" font-weight="normal" stroke="#333" stroke-width="0.12">59,150,000</text>
<line x1="345.4" y1="355" x2="345.4" y2="358.5" stroke="#777" stroke-width="0.5" />
<text x="392.3" y="359" font-size="6.2" fill="#333" text-anchor="end" textLength="24" lengthAdjust="spacingAndGlyphs" font-weight="normal" stroke="#333" stroke-width="0.12">59,200,000</text>
<line x1="395.5" y1="355" x2="395.5" y2="358.5" stroke="#777" stroke-width="0.5" />
<text x="442.40000000000003" y="359" font-size="6.2" fill="#333" text-anchor="end" textLength="24" lengthAdjust="spacingAndGlyphs" font-weight="normal" stroke="#333" stroke-width="0.12">59,250,000</text>
<line x1="445.6" y1="355" x2="445.6" y2="358.5" stroke="#777" stroke-width="0.5" />
<text x="492.5" y="359" font-size="6.2" fill="#333" text-anchor="end" textLength="24" lengthAdjust="spacingAndGlyphs" font-weight="normal" stroke="#333" stroke-width="0.12">59,300,000</text>
<line x1="495.7" y1="355" x2="495.7" y2="358.5" stroke="#777" stroke-width="0.5" />
<line x1="95.5" y1="363.3" x2="484" y2="363.3" stroke="#8a88b8" stroke-width="1.3" />
<line x1="426.5" y1="361.9" x2="426.5" y2="364.7" stroke="#3a3a5a" stroke-width="0.7" />
<line x1="437.2" y1="361.9" x2="437.2" y2="364.7" stroke="#3a3a5a" stroke-width="0.7" />
<line x1="440" y1="361.9" x2="440" y2="364.7" stroke="#3a3a5a" stroke-width="0.7" />
<line x1="442.2" y1="361.9" x2="442.2" y2="364.7" stroke="#3a3a5a" stroke-width="0.7" />
<line x1="446" y1="361.9" x2="446" y2="364.7" stroke="#3a3a5a" stroke-width="0.7" />
<line x1="456" y1="361.9" x2="456" y2="364.7" stroke="#3a3a5a" stroke-width="0.7" />
<line x1="480.5" y1="361.9" x2="480.5" y2="364.7" stroke="#3a3a5a" stroke-width="0.7" />
<rect x="482.5" y="361.5" width="3" height="3.2" fill="#222" />
<text x="487.7" y="365.6" font-size="6.5" fill="#2e2e5c" text-anchor="start" textLength="24.3" lengthAdjust="spacingAndGlyphs" font-weight="normal" stroke="#2e2e5c" stroke-width="0.12">LINC01122</text></svg>
</body></html>
